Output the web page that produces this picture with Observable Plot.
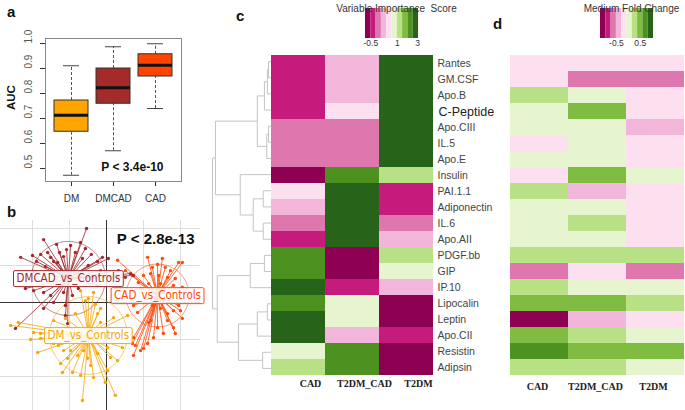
<!DOCTYPE html>
<html><head><meta charset="utf-8">
<script src="https://cdn.jsdelivr.net/npm/d3@7"></script>
<script src="https://cdn.jsdelivr.net/npm/@observablehq/plot@0.6"></script>
<style>
body{margin:0;background:#fff;}
#root{position:relative;width:685px;height:410px;overflow:hidden;font-family:"Liberation Sans",Arial,sans-serif;background:#fff;}
.panel{position:absolute;}
.plet{position:absolute;font:bold 15px "Liberation Sans",Arial,sans-serif;line-height:15px;color:#111;}
</style></head><body><div id="root"></div>
<script>
// ---------- Panel a: AUC box plot ----------
const boxGroups = ["DM", "DMCAD", "CAD"];
const boxLow    = [0.473, 0.571, 0.740];
const boxQ1     = [0.647, 0.759, 0.868];
const boxMedian = [0.713, 0.823, 0.913];
const boxQ3     = [0.772, 0.900, 0.957];
const boxHigh   = [0.911, 0.987, 0.999];
const boxColors = ["#FFA500", "#A52A2A", "#FF4500"];
const aucTicks  = [0.5, 0.6, 0.7, 0.8, 0.9, 1.0];
const aucP = "P < 3.4e-10";

// ---------- Panel b: star plot of groups ----------
const groupNames   = ["DMCAD_vs_Controls", "CAD_vs_Controls", "DM_vs_Controls"];
const groupCenterX = [-1.03, 1.38, -0.49];
const groupCenterY = [0.65, 0.19, -0.89];
const groupRadius  = [1.0, 0.85, 1.05];
const groupColors  = ["#a3282d", "#ff4a0a", "#f5a70c"];
const starP = "P < 2.8e-13";
const dmcadPts = [[-0.54,2.00],[-1.70,1.70],[-1.35,1.57],[-1.08,1.43],[-1.59,1.35],[-1.78,1.30],[-0.57,1.46],[-0.41,1.30],[-0.24,1.11],[-0.70,1.62],[-0.97,1.54],[-1.27,1.35],[-1.51,1.22],[-1.43,1.11],[-1.89,1.11],[-1.65,0.97],[-1.97,0.84],[-1.32,1.08],[-1.16,1.24],[-0.84,1.35],[-0.65,1.19],[-0.49,1.00],[-0.16,0.86],[-0.35,0.68],[-2.19,0.38],[-1.97,0.32],[-1.70,0.27],[-1.51,0.19],[-1.16,0.27],[-0.92,0.19],[-1.11,-0.08],[-1.11,-0.35],[-1.05,-0.57],[-2.46,-0.70],[-1.70,-0.16],[-1.43,0.00],[-0.76,0.38],[-0.24,0.46],[-0.11,1.22],[0.05,1.19],[0.32,0.86],[0.51,0.68],[0.65,0.78],[0.73,0.73],[-2.32,1.22],[-2.00,1.27]];
const cadPts = [[1.11,1.22],[1.51,1.19],[1.95,1.08],[1.24,0.95],[1.38,1.03],[1.59,0.95],[1.73,0.86],[1.00,0.73],[1.19,0.78],[1.41,0.73],[1.65,0.68],[1.86,0.65],[0.86,0.54],[1.14,0.51],[1.46,0.51],[1.81,0.46],[2.05,0.41],[0.30,1.14],[2.05,1.08],[0.51,0.86],[0.70,0.73],[0.92,0.38],[0.73,-0.08],[0.84,-0.27],[1.24,-0.08],[1.46,-0.16],[1.65,-0.30],[1.81,-0.22],[1.95,-0.08],[1.14,-0.54],[1.38,-0.68],[1.81,-0.68],[2.05,-0.43],[0.73,-0.95],[0.78,-1.16],[1.00,-1.24],[0.73,-1.43],[2.00,-0.22],[1.65,-0.49],[1.86,-0.84],[1.54,-0.84],[1.27,-0.95],[1.11,-1.11],[0.92,-1.30],[0.70,-1.11],[1.19,-0.49]];
const dmPts = [[-2.59,-0.62],[-2.38,-0.54],[-1.78,-0.84],[-2.05,-1.00],[-1.86,-1.35],[-1.43,-0.49],[-1.11,-0.43],[-0.84,-0.30],[-0.24,-0.30],[-0.16,-0.54],[0.19,-0.41],[0.57,-0.35],[0.24,-0.84],[0.43,-1.22],[0.30,-1.57],[0.03,-1.84],[-0.35,-2.03],[-0.70,-1.97],[-0.92,-1.89],[-1.19,-1.89],[-1.24,-1.65],[-1.05,-1.51],[-0.78,-1.43],[-0.51,-1.51],[-0.43,-1.70],[-0.65,-2.65],[-0.03,-2.16],[0.24,-2.51],[-1.16,-1.30],[-0.97,-1.30],[-0.62,-1.30],[-0.24,-1.38],[0.03,-1.22],[0.11,-1.49],[-1.43,-1.11],[-1.30,-1.16],[-0.49,0.11],[-0.70,0.32],[-0.35,0.27],[-0.16,-0.16],[-1.97,-0.81],[-1.78,-0.97],[-0.57,0.05],[-0.30,-0.05]];
const gridTicks = [-2, -1, 1, 2];

// ---------- Panels c & d: heatmaps ----------
const markers = ["Rantes","GM.CSF","Apo.B","C-Peptide","Apo.CIII","IL.5","Apo.E","Insulin","PAI.1.1","Adiponectin","IL.6","Apo.AII","PDGF.bb","GIP","IP.10","Lipocalin","Leptin","Apo.CII","Resistin","Adipsin"];
const comparisons = ["CAD", "T2DM_CAD", "T2DM"];
const importanceCAD     = [-0.35,-0.35,-0.35,-0.35,-0.1,-0.1,-0.1,-0.6,0.4,0.1,-0.1,-0.35,2.2,2.2,2.8,2.2,2.8,2.8,0.7,1.2];
const importanceT2DMCAD = [0.1,0.1,0.1,0.4,-0.1,-0.1,-0.1,2.2,2.8,2.8,2.8,2.8,-0.6,-0.6,-0.35,0.7,0.7,0.1,2.2,2.2];
const importanceT2DM    = [2.8,2.8,2.8,2.8,2.8,2.8,2.8,1.2,-0.35,-0.35,-0.1,0.1,1.2,0.7,0.1,-0.6,-0.6,-0.35,-0.6,-0.6];
const foldCAD     = [-0.12,-0.12,0.3,0.1,0.1,-0.12,0.1,-0.12,0.3,0.1,0.1,0.1,0.3,-0.6,0.3,0.5,-0.92,0.5,0.7,0.3];
const foldT2DMCAD = [-0.12,-0.6,0.1,0.5,0.1,0.1,0.1,0.5,-0.38,0.1,0.3,0.1,0.3,-0.12,0.1,0.5,-0.38,0.3,0.5,0.3];
const foldT2DM    = [-0.12,-0.6,-0.12,-0.12,-0.38,-0.12,-0.12,0.1,-0.12,-0.12,-0.12,-0.12,0.3,-0.6,0.1,0.3,-0.12,0.1,0.5,0.1];
const piyg = ["#8e0152","#c51b7d","#de77ae","#f1b6da","#fde0ef","#e6f5d0","#b8e186","#7fbc41","#4d9221","#276419"];
const importanceBreaks = [-0.75,-0.5,-0.2,0,0.25,0.5,1,1.5,2,2.5,3.1];
const importanceTicks = [-0.5, 1, 3];
const foldBreaks = [-1,-0.85,-0.7,-0.5,-0.25,0,0.2,0.4,0.6,0.8,1];
const foldTicks = [-0.5, 0.5];
const importanceTitle = "Variable Importance  Score";
const foldTitle = "Medium Fold Change";
// hierarchical clustering merges: [a, b, height]; numbers refer to earlier merges
const dendroMerges = [
  ["Rantes","GM.CSF",0.05], [0,"Apo.B",0.07], [1,"C-Peptide",0.12],
  ["Apo.CIII","IL.5",0.05], [3,"Apo.E",0.08], [2,4,0.24],
  ["PAI.1.1","Adiponectin",0.14], ["IL.6","Apo.AII",0.14], [6,7,0.31],
  ["Insulin",8,0.53], [5,9,0.95],
  ["PDGF.bb","GIP",0.12], [11,"IP.10",0.36],
  ["Lipocalin","Leptin",0.07], [13,"Apo.CII",0.24],
  ["Resistin","Adipsin",0.15], [14,15,0.56], [12,16,0.92], [10,17,1.0]
];

const root = document.getElementById("root");
const FONT = '"Liberation Sans", Arial, sans-serif';
function place(el, left, top) {
  const d = document.createElement("div");
  d.className = "panel"; d.style.left = left + "px"; d.style.top = top + "px";
  d.appendChild(el); root.appendChild(d); return el;
}
function letter(t, left, top) {
  const d = document.createElement("div");
  d.className = "plet"; d.textContent = t; d.style.left = left + "px"; d.style.top = top + "px";
  root.appendChild(d);
}
const baseStyle = {background: "transparent", overflow: "visible", maxWidth: "none", fontFamily: FONT};

// ---------- a ----------
const boxData = boxGroups.map((g, i) => ({g, low: boxLow[i], q1: boxQ1[i], med: boxMedian[i], q3: boxQ3[i], high: boxHigh[i], color: boxColors[i]}));
place(Plot.plot({
  width: 200, height: 205, marginLeft: 45, marginRight: 19, marginTop: 38, marginBottom: 24,
  style: {...baseStyle, fontSize: "10px", color: "#333"},
  x: {domain: boxGroups, paddingInner: 0.19, paddingOuter: 0.214, tickSize: 5, tickPadding: 8, label: null},
  y: {domain: [0.448, 1.02], ticks: aucTicks, tickSize: 5, tickFormat: () => "", label: null},
  marks: [
    Plot.frame({stroke: "#888"}),
    Plot.ruleX(boxData, {x: "g", y1: "low", y2: "q1", stroke: "#555", strokeDasharray: "3,2"}),
    Plot.ruleX(boxData, {x: "g", y1: "q3", y2: "high", stroke: "#555", strokeDasharray: "3,2"}),
    Plot.tickY(boxData, {x: "g", y: "low", insetLeft: 9, insetRight: 9, stroke: "#444"}),
    Plot.tickY(boxData, {x: "g", y: "high", insetLeft: 9, insetRight: 9, stroke: "#444"}),
    Plot.barY(boxData, {x: "g", y1: "q1", y2: "q3", fill: "color", stroke: "#333", strokeWidth: 1}),
    Plot.tickY(boxData, {x: "g", y: "med", stroke: "#111", strokeWidth: 3}),
    Plot.text(aucTicks, {y: d => d, text: d => d.toFixed(1), frameAnchor: "left", dx: -17, rotate: -90, fontSize: 10, fill: "#555"}),
    Plot.text(["AUC"], {frameAnchor: "left", dx: -34, rotate: -90, fontSize: 11.5, fontWeight: "bold", fill: "#111"}),
    Plot.text([aucP], {frameAnchor: "bottom-right", dx: -18, dy: -11, textAnchor: "end", fontSize: 12, fontWeight: "bold", fill: "#111"})
  ]
}), 0, 0);

// ---------- b ----------
const ptsByGroup = [dmcadPts, cadPts, dmPts];
const drawOrder = [1, 0, 2];
const starData = [];
drawOrder.forEach(gi => ptsByGroup[gi].forEach(([x, y]) => starData.push({gi, x, y, cx: groupCenterX[gi], cy: groupCenterY[gi], color: groupColors[gi]})));
const circleData = [];
drawOrder.forEach(gi => d3.range(0, 361, 4).forEach(a => {
  const t = a * Math.PI / 180;
  circleData.push({gi, x: groupCenterX[gi] + groupRadius[gi] * Math.cos(t), y: groupCenterY[gi] + groupRadius[gi] * Math.sin(t), color: groupColors[gi]});
}));
const labelData = groupNames.map((n, gi) => ({n, x: groupCenterX[gi], y: groupCenterY[gi], color: groupColors[gi]}));
const bSvg = place(Plot.plot({
  width: 200, height: 205, marginLeft: 0, marginRight: 0, marginTop: 15, marginBottom: 0,
  style: {...baseStyle, fontSize: "10px"},
  x: {domain: [-106/37, 94/37], axis: null},
  y: {domain: [-2.919, 2.216], axis: null},
  marks: [
    Plot.ruleX(gridTicks, {stroke: "#dedede", strokeWidth: 1}),
    Plot.ruleY(gridTicks, {stroke: "#dedede", strokeWidth: 1}),
    Plot.ruleX([0], {stroke: "#333", strokeWidth: 1}),
    Plot.ruleY([0], {stroke: "#333", strokeWidth: 1}),
    Plot.line(circleData, {x: "x", y: "y", z: "gi", stroke: "color", strokeWidth: 0.8, strokeOpacity: 0.7}),
    Plot.link(starData, {x1: "cx", y1: "cy", x2: "x", y2: "y", stroke: "color", strokeWidth: 0.9, strokeOpacity: 0.9}),
    Plot.dot(starData, {x: "x", y: "y", r: 1.7, fill: "color", stroke: "none"}),
    Plot.text(labelData, {x: "x", y: "y", text: "n", fill: "color", fontSize: 11.5, fontFamily: '"Liberation Sans Narrow", "Arial Narrow", "DejaVu Sans Condensed", sans-serif'}),
    Plot.text([starP], {frameAnchor: "top-right", dx: -6, dy: 13, textAnchor: "end", fontSize: 15, fontWeight: "bold", fill: "#111"})
  ]
}), 0, 205);
Array.from(bSvg.querySelectorAll("text")).filter(t => groupNames.includes(t.textContent)).forEach(t => {
  const bb = t.getBBox();
  const r = document.createElementNS("http://www.w3.org/2000/svg", "rect");
  r.setAttribute("x", bb.x - 3); r.setAttribute("y", bb.y - 0.5);
  r.setAttribute("width", bb.width + 6); r.setAttribute("height", bb.height + 2);
  if (t.getAttribute("transform")) r.setAttribute("transform", t.getAttribute("transform"));
  r.setAttribute("fill", "white"); r.setAttribute("fill-opacity", "0.85");
  r.setAttribute("stroke", t.getAttribute("fill") || "#888"); r.setAttribute("stroke-width", "1");
  r.setAttribute("rx", "1.5");
  t.parentNode.insertBefore(r, t);
});

// ---------- c: dendrogram ----------
const dendroSegs = [];
(function () {
  const nodes = [];
  const pos = k => typeof k === "string" ? {y: markers.indexOf(k) + 0.5, h: 0} : nodes[k];
  dendroMerges.forEach(([a, b, h]) => {
    const A = pos(a), B = pos(b);
    dendroSegs.push({x1: A.h, y1: A.y, x2: h, y2: A.y});
    dendroSegs.push({x1: B.h, y1: B.y, x2: h, y2: B.y});
    dendroSegs.push({x1: h, y1: A.y, x2: h, y2: B.y});
    nodes.push({y: (A.y + B.y) / 2, h});
  });
})();
place(Plot.plot({
  width: 71, height: 410, marginLeft: 0, marginRight: 0, marginTop: 53, marginBottom: 34,
  style: baseStyle,
  x: {domain: [1.2034, 0], axis: null},
  y: {domain: [0, markers.length], reverse: true, axis: null},
  marks: [Plot.link(dendroSegs, {x1: "x1", y1: "y1", x2: "x2", y2: "y2", stroke: "#c4c4c4", strokeWidth: 1})]
}), 200, 0);

// ---------- c & d heatmaps ----------
function cells(cols) {
  const out = [];
  markers.forEach((m, i) => comparisons.forEach((c, j) => out.push({marker: m, comp: c, v: cols[j][i]})));
  return out;
}
const impCells = cells([importanceCAD, importanceT2DMCAD, importanceT2DM]);
const foldCells = cells([foldCAD, foldT2DMCAD, foldT2DM]);
const impColor = {type: "threshold", domain: importanceBreaks.slice(1, -1), range: piyg};
const foldColor = {type: "threshold", domain: foldBreaks.slice(1, -1), range: piyg};
const colLabelFont = {fontFamily: '"Liberation Serif", "Times New Roman", serif', fontWeight: "bold", fontSize: 10, fill: "#222"};

place(Plot.plot({
  width: 295, height: 410, marginLeft: 71, marginRight: 62, marginTop: 53, marginBottom: 34,
  style: baseStyle,
  x: {domain: comparisons, padding: 0, axis: null},
  y: {domain: markers, padding: 0, axis: null},
  color: impColor,
  marks: [
    Plot.cell(impCells, {x: "comp", y: "marker", fill: "v", inset: 0}),
    Plot.text(markers.filter(m => m !== "C-Peptide"), {y: d => d, text: d => d, frameAnchor: "right", textAnchor: "start", dx: 4, fontSize: 10.5, fill: "#444"}),
    Plot.text(markers.filter(m => m === "C-Peptide"), {y: d => d, text: d => d, frameAnchor: "right", textAnchor: "start", dx: 5, fontSize: 12.5, fill: "#222"}),
    Plot.text(comparisons, {x: d => d, text: d => d, frameAnchor: "bottom", dy: 10, dx: 12, ...colLabelFont})
  ]
}), 200, 0);

place(Plot.plot({
  width: 195, height: 410, marginLeft: 19, marginRight: 1, marginTop: 53, marginBottom: 34,
  style: baseStyle,
  x: {domain: comparisons, padding: 0, axis: null},
  y: {domain: markers, padding: 0, axis: null},
  color: foldColor,
  marks: [
    Plot.cell(foldCells, {x: "comp", y: "marker", fill: "v", inset: 0}),
    Plot.text(comparisons, {x: d => d, text: d => d, frameAnchor: "bottom", dy: 13, dx: -2, ...colLabelFont})
  ]
}), 490, 0);

// ---------- legends ----------
function legendPlot(breaks, ticks, title, colorOpts, width, ml, mr, titleDx) {
  const idx = d3.scaleLinear(breaks, d3.range(breaks.length));
  const bins = d3.range(breaks.length - 1).map(i => ({i, v: (breaks[i] + breaks[i + 1]) / 2}));
  return Plot.plot({
    width, height: 50, marginLeft: ml, marginRight: mr, marginTop: 8, marginBottom: 12,
    style: baseStyle,
    x: {domain: [0, breaks.length - 1], axis: null},
    color: colorOpts,
    marks: [
      Plot.rect(bins, {x1: d => d.i, x2: d => d.i + 1, fill: "v"}),
      Plot.text(ticks, {x: v => idx(v), text: v => String(v), frameAnchor: "bottom", dy: 7, fontSize: 8.5, fill: "#333"}),
      Plot.text([title], {frameAnchor: "top", dy: -4, dx: titleDx, fontSize: 10, fill: "#333", fontFamily: '"Liberation Sans Narrow", "Arial Narrow", "Liberation Sans", sans-serif'})
    ]
  });
}
place(legendPlot(importanceBreaks, importanceTicks, importanceTitle, impColor, 110, 22, 35, 4.5), 343, 0);
place(legendPlot(foldBreaks, foldTicks, foldTitle, foldColor, 105, 20, 32, 4.5), 580, 0);

// ---------- panel letters ----------
letter("a", 7, 4);
letter("b", 7, 204);
letter("c", 236, 8);
letter("d", 493, 16);
</script></body></html>
